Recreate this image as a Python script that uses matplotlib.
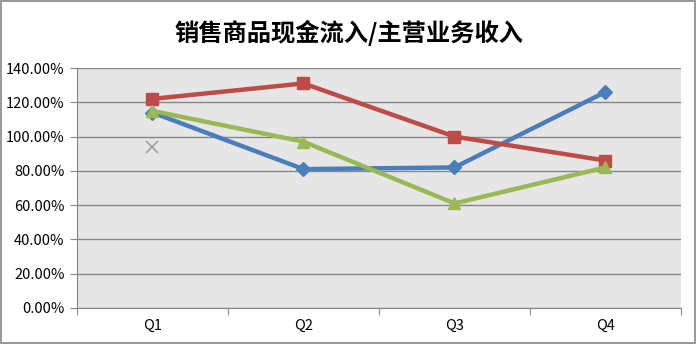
import matplotlib
matplotlib.use("Agg")
import matplotlib.pyplot as plt
from matplotlib.patches import Rectangle
from matplotlib.ticker import FuncFormatter

plt.rcParams["font.family"] = ["Noto Sans CJK SC", "DejaVu Sans"]

title = "销售商品现金流入/主营业务收入"
quarters = ["Q1", "Q2", "Q3", "Q4"]
series_blue = [114, 81, 82, 126]
series_red = [122, 131, 100, 86]
series_green = [115, 97, 61, 82]
series_gray = [94]

fig = plt.figure(figsize=(6.98, 3.44), dpi=100)
ax = fig.add_axes([0.1103, 0.1047, 0.8653, 0.6976])
ax.set_facecolor("#e6e6e6")

x = list(range(len(quarters)))
ax.plot(x, series_blue, color="#4a7ebb", lw=3.2, marker="D", ms=7, zorder=3)
ax.plot(x, series_red, color="#be4b48", lw=3.2, marker="s", ms=8, zorder=4)
ax.plot(x, series_green, color="#98b954", lw=3.2, marker="^", ms=9, zorder=5)
ax.plot(x[:len(series_gray)], series_gray, color="#a0a0a0", lw=0, marker="x",
        ms=9, mew=1.2, zorder=6)

ax.set_xlim(-0.5, len(quarters) - 0.5)
ax.set_ylim(0, 140)
ax.set_yticks(range(0, 141, 20))
ax.yaxis.set_major_formatter(FuncFormatter(lambda v, _: f"{v:.2f}%"))
ax.grid(axis="y", color="#868686", lw=1)
ax.set_axisbelow(True)

ax.set_xticks([i - 0.5 for i in range(len(quarters) + 1)])
ax.set_xticklabels([])
ax.set_xticks(x, minor=True)
ax.set_xticklabels(quarters, minor=True)
ax.tick_params(axis="x", which="major", length=5, color="#868686")
ax.tick_params(axis="x", which="minor", length=0, pad=8, labelsize=10.5)
ax.tick_params(axis="y", length=5, color="#868686", labelsize=10.5, pad=4)

for side in ["top", "right"]:
    ax.spines[side].set_visible(False)
for side in ["left", "bottom"]:
    ax.spines[side].set_color("#868686")

fig.text(0.5, 0.905, title, ha="center", va="center", fontsize=17.5,
         fontweight="heavy")
fig.patches.append(Rectangle((0.002, 0.003), 0.994, 0.994, transform=fig.transFigure,
                             fill=False, edgecolor="#868686", lw=1.2))

fig.savefig("out.png", dpi=100)
